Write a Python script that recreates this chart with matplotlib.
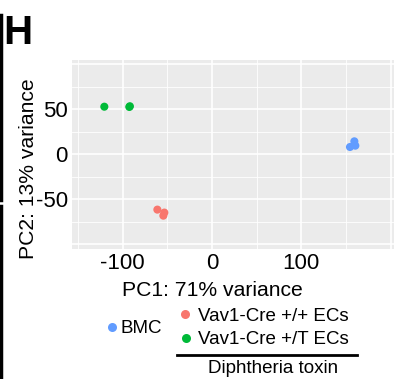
import matplotlib
matplotlib.use("Agg")
import matplotlib.pyplot as plt
from matplotlib.lines import Line2D

plt.rcParams["font.family"] = ["Liberation Sans", "DejaVu Sans"]

# PCA scores
groups = ["BMC", "Vav1-Cre +/+ ECs", "Vav1-Cre +/T ECs"]
colors = ["#619CFF", "#F8766D", "#00BA38"]
pc1 = {
    "BMC": [154.5, 159.4, 160.5],
    "Vav1-Cre +/+ ECs": [-61.2, -53.4, -54.5],
    "Vav1-Cre +/T ECs": [-120.6, -92.6, -92.0],
}
pc2 = {
    "BMC": [8.1, 14.4, 9.6],
    "Vav1-Cre +/+ ECs": [-61.5, -64.8, -68.2],
    "Vav1-Cre +/T ECs": [52.9, 52.6, 53.4],
}
xticks = [-100, 0, 100, 200]
xticklabels = ["-100", "0", "100", ""]
yticks = [-100, -50, 0, 50, 100]
yticklabels = ["", "-50", "0", "50", ""]

W, H = 394, 379
fx = lambda px: px / W
fy = lambda px: 1 - px / H

fig = plt.figure(figsize=(W / 100, H / 100), dpi=100)
ax = fig.add_axes([fx(72), fy(249.3), 1 - fx(72), (249.3 - 60) / H])
ax.set_facecolor("#EBEBEB")
for s in ax.spines.values():
    s.set_visible(False)

ax.set_xlim(-156.8, 203.8)
ax.set_ylim(-105.6, 104.8)
ax.set_xticks(xticks)
ax.set_xticklabels(xticklabels)
ax.set_yticks(yticks)
ax.set_yticklabels(yticklabels)
ax.set_xticks([-150, -50, 50, 150], minor=True)
ax.set_yticks([-75, -25, 25, 75], minor=True)
ax.grid(which="major", color="white", lw=1.2)
ax.grid(which="minor", color="white", lw=0.6)
ax.set_axisbelow(True)
ax.tick_params(which="both", length=0, labelsize=16, labelcolor="black")
ax.tick_params(axis="x", pad=2.5)
ax.tick_params(axis="y", pad=3)

for g, c in zip(groups, colors):
    ax.scatter(pc1[g], pc2[g], s=34, color=c, edgecolors="none", zorder=3)

fig.text(fx(212), fy(295.7), "PC1: 71% variance", fontsize=15.2,
         ha="center", va="baseline")
fig.text(fx(28), fy(169), "PC2: 13% variance", rotation=90,
         fontsize=15.2, ha="center", va="center")

# panel letter
fig.text(fx(3.7), fy(44), "H", fontsize=29, fontweight="bold",
         ha="left", va="baseline")

# legend drawn by hand
leg_fs = 13.5
fig.add_artist(Line2D([fx(112)], [fy(327.3)], marker="o", ms=6.5,
                      color=colors[0], mec="none", ls=""))
fig.text(fx(121), fy(333.3), groups[0], fontsize=leg_fs, va="baseline")
fig.add_artist(Line2D([fx(185)], [fy(314)], marker="o", ms=6.5,
                      color=colors[1], mec="none", ls=""))
fig.text(fx(198.5), fy(321), groups[1], fontsize=leg_fs, va="baseline")
fig.add_artist(Line2D([fx(185.5)], [fy(337.7)], marker="o", ms=6.5,
                      color=colors[2], mec="none", ls=""))
fig.text(fx(198.5), fy(344.3), groups[2], fontsize=leg_fs, va="baseline")
fig.add_artist(Line2D([fx(177), fx(357)], [fy(355), fy(355)],
                      color="black", lw=2))
fig.text(fx(273.5), fy(373.3), "Diphtheria toxin", fontsize=leg_fs,
         ha="center", va="baseline")

# edge of the neighbouring panel
fig.add_artist(Line2D([fx(1), fx(1)], [fy(15), fy(200)], color="black", lw=2.5))
fig.add_artist(Line2D([fx(1), fx(1)], [fy(206), 0], color="black", lw=2.5))

fig.savefig("out.png", dpi=100)
